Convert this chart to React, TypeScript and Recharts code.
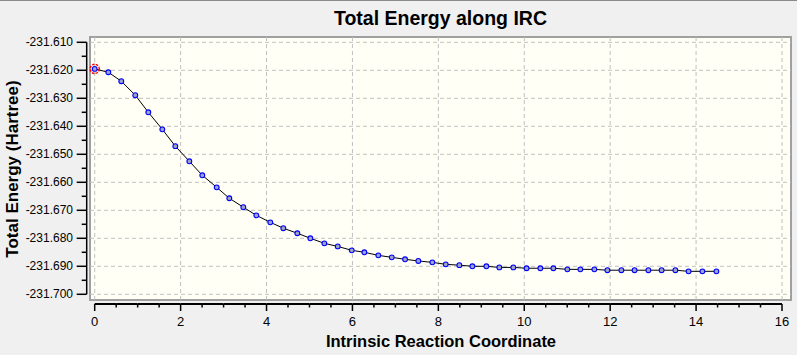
import { LineChart, Line, XAxis, YAxis, ReferenceLine, ReferenceArea, ReferenceDot } from 'recharts';

// IRC points
const ircCoord = [
  0, 0.317, 0.619, 0.945, 1.248, 1.574, 1.877, 2.203, 2.505, 2.84, 3.134, 3.46, 3.763, 4.088, 4.391, 4.717,
  5.02, 5.346, 5.658, 5.984, 6.277, 6.603, 6.915, 7.225, 7.534, 7.86, 8.172, 8.489, 8.792, 9.118, 9.42,
  9.746, 10.054, 10.375, 10.678, 11.003, 11.306, 11.632, 11.935, 12.261, 12.568, 12.889, 13.197, 13.518,
  13.825, 14.147, 14.473,
];
const totalEnergy = [
  -231.6195, -231.6207, -231.6239, -231.6289, -231.635, -231.6411, -231.6471, -231.6525, -231.6575,
  -231.6618, -231.6657, -231.6689, -231.6718, -231.6743, -231.6764, -231.6782, -231.68, -231.6818,
  -231.6829, -231.6843, -231.685, -231.6861, -231.6868, -231.6875, -231.6881, -231.6886, -231.6893,
  -231.6896, -231.69, -231.69, -231.6904, -231.6904, -231.6907, -231.6907, -231.6907, -231.6911,
  -231.6911, -231.6911, -231.6914, -231.6914, -231.6914, -231.6914, -231.6914, -231.6914, -231.6918,
  -231.6918, -231.6918,
];

const xTicks = [0, 0.5, 1, 1.5, 2, 2.5, 3, 3.5, 4, 4.5, 5, 5.5, 6, 6.5, 7, 7.5, 8, 8.5, 9, 9.5, 10, 10.5, 11, 11.5, 12, 12.5, 13, 13.5, 14, 14.5, 15, 15.5, 16];
const xTickLabels = ['0', '2', '4', '6', '8', '10', '12', '14', '16'];
const yTickLabels = ['-231.610', '-231.620', '-231.630', '-231.640', '-231.650', '-231.660', '-231.670', '-231.680', '-231.690', '-231.700'];
const yMinorTicks = [-231.615, -231.625, -231.635, -231.645, -231.655, -231.665, -231.675, -231.685, -231.695];

const xMajor = xTickLabels.map(Number);
const yMajor = yTickLabels.map(Number);
const yTicks = [...yMajor, ...yMinorTicks].sort((a, b) => b - a);

const data = ircCoord.map((x, i) => ({ x, energy: totalEnergy[i] }));

const W = 797;
const H = 355;
const PLOT = { left: 90, right: 791, top: 37, bottom: 300 };
const X_DOMAIN = [-0.1094, 16.2095];
const Y_DOMAIN = [-231.70204, -231.60811];
const pxPerX = (PLOT.right - PLOT.left) / (X_DOMAIN[1] - X_DOMAIN[0]);
const pxPerY = (PLOT.bottom - PLOT.top) / (Y_DOMAIN[1] - Y_DOMAIN[0]);

const FONT = '"Liberation Sans", Arial, sans-serif';
const near = (a: number, b: number) => Math.abs(a - b) < 1e-6;

function XTick(props: any) {
  const { x, y, payload } = props;
  const v = payload.value as number;
  const idx = xMajor.findIndex((m) => near(m, v));
  const last = near(v, xTicks[xTicks.length - 1]);
  const ay = y + 4;
  return (
    <g>
      {!last && <line x1={x} x2={x + 0.5 * pxPerX} y1={ay} y2={ay} stroke="#000" strokeWidth={2} />}
      <line x1={x} x2={x} y1={ay} y2={ay + (idx >= 0 ? 7 : 3.5)} stroke="#000" strokeWidth={1.5} />
      {idx >= 0 && (
        <text x={x} y={y + 26} textAnchor="middle" fontSize={13} fontFamily={FONT} fill="#000">
          {xTickLabels[idx]}
        </text>
      )}
    </g>
  );
}

function YTick(props: any) {
  const { x, y, payload } = props;
  const v = payload.value as number;
  const idx = yMajor.findIndex((m) => near(m, v));
  const top = near(v, yMajor[0]);
  const ax = x - 3.3;
  return (
    <g>
      {!top && <line x1={ax} x2={ax} y1={y} y2={y - 0.005 * pxPerY} stroke="#000" strokeWidth={1.5} />}
      <line x1={ax} x2={ax - (idx >= 0 ? 10 : 5)} y1={y} y2={y} stroke="#000" strokeWidth={1.5} />
      {idx >= 0 && (
        <text x={x - 17} y={y} dy="0.35em" textAnchor="end" fontSize={12} fontFamily={FONT} fill="#000">
          {yTickLabels[idx]}
        </text>
      )}
    </g>
  );
}

function MarkerDot(props: any) {
  const { cx, cy } = props;
  if (cx == null || cy == null) return null;
  return <circle cx={cx} cy={cy} r={2.4} fill="#9ea4c4" stroke="#0000ff" strokeWidth={1.1} />;
}

export default function App() {
  return (
    <div style={{ position: 'absolute', left: 0, top: 0, width: W, height: H, background: '#f0f0f0' }}>
      <LineChart width={W} height={H} data={data} margin={{ top: PLOT.top, right: W - PLOT.right, bottom: 0, left: 0 }}>
        <XAxis
          dataKey="x"
          type="number"
          domain={X_DOMAIN}
          allowDataOverflow
          ticks={xTicks}
          interval={0}
          height={H - PLOT.bottom}
          axisLine={false}
          tickLine={false}
          tickSize={0}
          tickMargin={0}
          tick={<XTick />}
        />
        <YAxis
          type="number"
          domain={Y_DOMAIN}
          allowDataOverflow
          ticks={yTicks}
          interval={0}
          width={PLOT.left}
          axisLine={false}
          tickLine={false}
          tickSize={0}
          tickMargin={0}
          tick={<YTick />}
        />
        <ReferenceArea
          x1={X_DOMAIN[0]}
          x2={X_DOMAIN[1]}
          y1={Y_DOMAIN[0]}
          y2={Y_DOMAIN[1]}
          fill="#fffff5"
          fillOpacity={1}
          stroke="#a0a0a0"
          strokeWidth={2}
          ifOverflow="visible"
        />
        {xMajor.map((v) => (
          <ReferenceLine key={'gx' + v} x={v} stroke="#c0c0c0" strokeDasharray="4 3" />
        ))}
        {yMajor.map((v) => (
          <ReferenceLine key={'gy' + v} y={v} stroke="#c0c0c0" strokeDasharray="4 3" />
        ))}
        <Line
          type="linear"
          dataKey="energy"
          stroke="#000"
          strokeWidth={1}
          dot={<MarkerDot />}
          activeDot={false}
          isAnimationActive={false}
        />
        <ReferenceDot
          x={ircCoord[0]}
          y={totalEnergy[0]}
          r={4.6}
          fill="none"
          stroke="#ff0000"
          strokeWidth={1.4}
          strokeDasharray="2.5 1.2"
          ifOverflow="visible"
        />
      </LineChart>
      <svg width={W} height={H} style={{ position: 'absolute', left: 0, top: 0, pointerEvents: 'none' }}>
        <line x1={0} x2={W} y1={0.5} y2={0.5} stroke="#8a8a8a" />
        <text x={440.5} y={25} textAnchor="middle" fontSize={19.5} fontWeight="bold" fontFamily={FONT} fill="#000">
          Total Energy along IRC
        </text>
        <text x={441} y={346.5} textAnchor="middle" fontSize={16.5} fontWeight="bold" fontFamily={FONT} fill="#000">
          Intrinsic Reaction Coordinate
        </text>
        <text
          transform="translate(18,169) rotate(-90)"
          textAnchor="middle"
          fontSize={17}
          fontWeight="bold"
          fontFamily={FONT}
          fill="#000"
        >
          Total Energy (Hartree)
        </text>
      </svg>
    </div>
  );
}
